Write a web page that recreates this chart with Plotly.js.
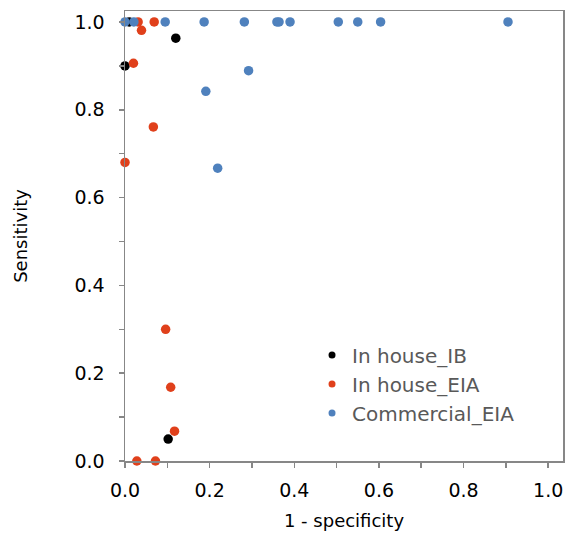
<!DOCTYPE html>
<html>
<head>
<meta charset="utf-8">
<script src="https://cdn.plot.ly/plotly-3.0.1.min.js"></script>
<style>html,body{margin:0;padding:0;background:#fff;}#chart{width:569px;height:534px;}</style>
</head>
<body>
<div id="chart"></div>
<script>
// Series names
const seriesNames = ["In house_IB", "In house_EIA", "Commercial_EIA"];
const seriesColors = ["#000000", "#e0401b", "#4f81bd"];

// In house_IB : x = 1 - specificity, y = sensitivity
const ibX = [0.0, 0.01, 0.12, 0.102];
const ibY = [0.90, 1.00, 0.963, 0.05];

// In house_EIA
const eiaX = [0.0, 0.02, 0.031, 0.039, 0.069, 0.067, 0.096, 0.108, 0.117, 0.028, 0.072];
const eiaY = [0.68, 0.906, 1.00, 0.981, 1.00, 0.761, 0.30, 0.168, 0.068, 0.0, 0.0];

// Commercial_EIA
const comX = [0.0, 0.021, 0.095, 0.187, 0.282, 0.359, 0.364, 0.39, 0.504, 0.55, 0.604, 0.905, 0.191, 0.292, 0.219];
const comY = [1.00, 1.00, 1.00, 1.00, 1.00, 1.00, 1.00, 1.00, 1.00, 1.00, 1.00, 1.00, 0.842, 0.889, 0.667];

// Axis tick labels
const tickVals = [0, 0.2, 0.4, 0.6, 0.8, 1.0];
const tickText = ["0.0", "0.2", "0.4", "0.6", "0.8", "1.0"];

const xs = [ibX, eiaX, comX];
const ys = [ibY, eiaY, comY];

const traces = [];
for (let i = 0; i < 3; i++) {
  traces.push({
    type: "scatter", mode: "markers", x: xs[i], y: ys[i], name: seriesNames[i],
    showlegend: false, cliponaxis: false, hoverinfo: "x+y+name",
    marker: {color: seriesColors[i], size: 9.5, line: {width: 0}}
  });
}
// legend entries (smaller legend symbols)
for (let i = 0; i < 3; i++) {
  traces.push({
    type: "scatter", mode: "markers", x: [null], y: [null], name: seriesNames[i],
    showlegend: true, marker: {color: seriesColors[i], size: 7}
  });
}

const axisCommon = {
  showgrid: false, zeroline: false, showline: true, mirror: true,
  linecolor: "#878787", linewidth: 1.5,
  ticks: "outside", ticklen: 5, tickwidth: 1.5, tickcolor: "#878787",
  tickvals: tickVals, ticktext: tickText,
  tickfont: {family: "DejaVu Sans, Verdana, sans-serif", size: 19, color: "#000"},
  minor: {dtick: 0.1, tick0: 0, ticks: "outside", ticklen: 5, tickwidth: 1.5, tickcolor: "#878787", showgrid: false}
};

const layout = {
  width: 569, height: 534,
  margin: {l: 125, r: 6, t: 11, b: 73},
  paper_bgcolor: "#fff", plot_bgcolor: "#fff",
  font: {family: "DejaVu Sans, Verdana, sans-serif", color: "#000"},
  xaxis: Object.assign({}, axisCommon, {
    range: [0, 1.035],
    ticklabelstandoff: 7,
    title: {text: "1 - specificity", font: {size: 18, color: "#000"}, standoff: 14}
  }),
  yaxis: Object.assign({}, axisCommon, {
    range: [0, 1.025],
    ticklabelstandoff: 10,
    title: {text: "Sensitivity", font: {size: 18, color: "#000"}, standoff: 42}
  }),
  legend: {
    x: 0.427, y: 0.279, xanchor: "left", yanchor: "top",
    bgcolor: "rgba(0,0,0,0)",
    font: {family: "DejaVu Sans, Verdana, sans-serif", size: 20, color: "#595959"},
    tracegroupgap: 0
  },
  showlegend: true
};

Plotly.newPlot("chart", traces, layout, {displayModeBar: false, staticPlot: true});
</script>
</body>
</html>
